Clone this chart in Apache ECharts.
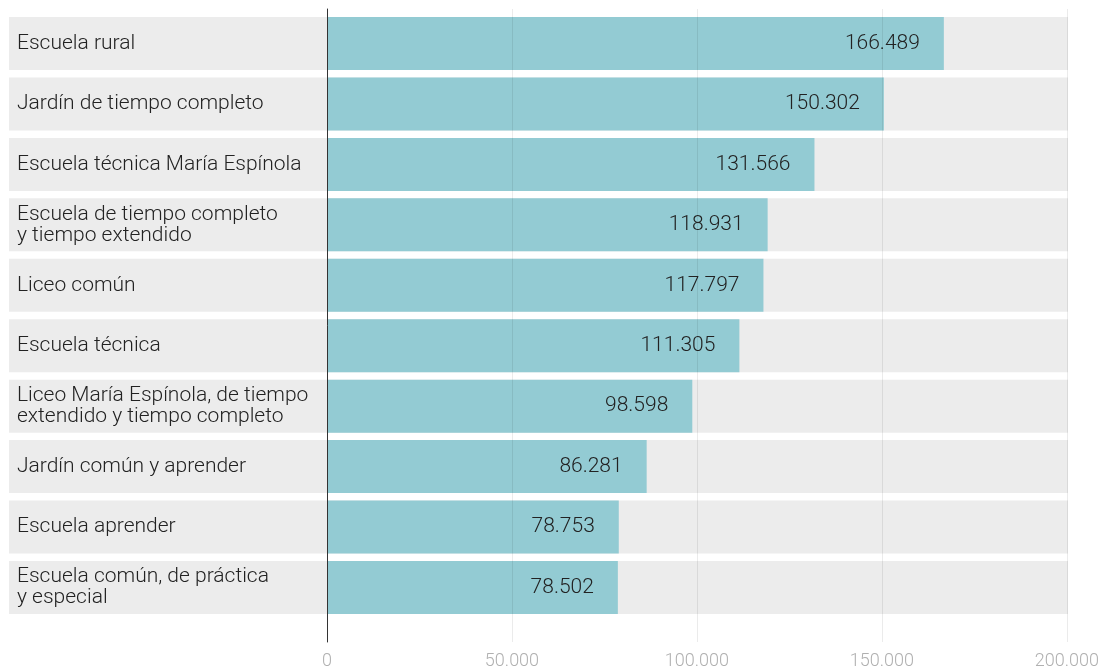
<!DOCTYPE html>
<html>
<head>
<meta charset="utf-8">
<script src="https://cdn.jsdelivr.net/npm/echarts@6/dist/echarts.min.js"></script>
<style>
  html, body { margin: 0; padding: 0; background: #fff; }
  #chart { width: 1102px; height: 670px; }
</style>
</head>
<body>
<div id="chart"></div>
<script>
// Categories, top to bottom
const categories = [
  'Escuela rural',
  'Jardín de tiempo completo',
  'Escuela técnica María Espínola',
  'Escuela de tiempo completo\ny tiempo extendido',
  'Liceo común',
  'Escuela técnica',
  'Liceo María Espínola, de tiempo\nextendido y tiempo completo',
  'Jardín común y aprender',
  'Escuela aprender',
  'Escuela común, de práctica\ny especial'
];
const values = [166489, 150302, 131566, 118931, 117797, 111305, 98598, 86281, 78753, 78502];
const axisMin = 0;
const axisMax = 200000;
const axisStep = 50000;

const FONT = 'Roboto, "Noto Sans", sans-serif';
const fmt = v => String(Math.round(v)).replace(/\B(?=(\d{3})+(?!\d))/g, '.');

const rowTop = 13.3, rowBottom = 52.3;
const left0 = 327, rightPad = 34;

const chart = echarts.init(document.getElementById('chart'), null, { renderer: 'canvas' });
chart.setOption({
  animation: false,
  grid: [
    // full-width grey row bands + category labels
    { left: 9, right: rightPad, top: rowTop, bottom: rowBottom },
    // value bars
    { left: left0, right: rightPad, top: rowTop, bottom: rowBottom },
    // value axis, gridlines and baseline
    { left: left0, right: rightPad, top: 9, bottom: 27 }
  ],
  xAxis: [
    { gridIndex: 0, type: 'value', min: 0, max: 1, show: false },
    { gridIndex: 1, type: 'value', min: axisMin, max: axisMax, show: false },
    {
      gridIndex: 2, type: 'value', min: axisMin, max: axisMax, interval: axisStep, z: 10,
      axisLine: { show: false }, axisTick: { show: false },
      splitLine: { show: true, lineStyle: { color: 'rgba(0,0,0,0.08)', width: 1 } },
      axisLabel: {
        margin: 10, color: '#b0b0b0', fontSize: 18, fontFamily: FONT, fontWeight: 300,
        formatter: v => fmt(v)
      }
    }
  ],
  yAxis: [
    {
      gridIndex: 0, type: 'category', data: categories, inverse: true,
      axisLine: { show: false }, axisTick: { show: false }, splitLine: { show: false },
      axisLabel: {
        inside: true, margin: 8, align: 'left', color: '#222', fontSize: 21,
        fontFamily: FONT, fontWeight: 300, lineHeight: 21
      },
      z: 5
    },
    { gridIndex: 1, type: 'category', data: categories, inverse: true, show: false },
    {
      gridIndex: 2, type: 'value', min: 0, max: 1, z: 10,
      axisLine: { show: true, onZero: false, lineStyle: { color: '#333', width: 1 } },
      axisTick: { show: false }, axisLabel: { show: false }, splitLine: { show: false }
    }
  ],
  series: [
    {
      type: 'bar', xAxisIndex: 0, yAxisIndex: 0,
      data: categories.map(() => 1),
      barWidth: 53, itemStyle: { color: '#ececec' }, silent: true, z: 1
    },
    {
      type: 'bar', xAxisIndex: 1, yAxisIndex: 1,
      data: values, barWidth: 53, z: 2,
      itemStyle: { color: '#93cbd3' },
      label: {
        show: true, position: 'insideRight', distance: 24,
        color: '#222', fontSize: 21, fontFamily: FONT, fontWeight: 300,
        formatter: p => fmt(p.value)
      }
    }
  ]
});
</script>
</body>
</html>
